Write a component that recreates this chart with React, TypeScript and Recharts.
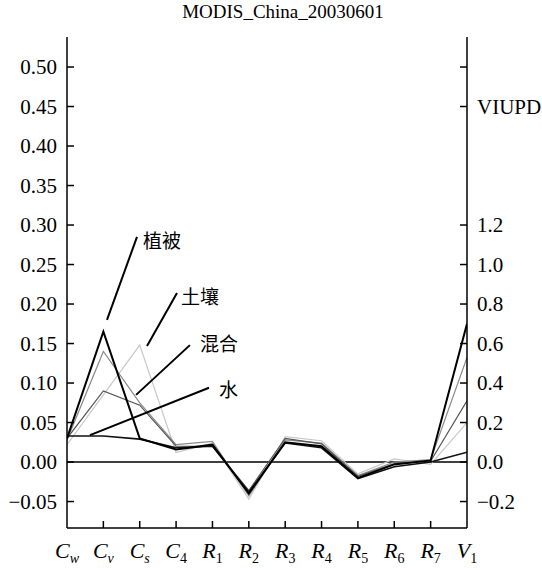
import React from "react";
import {LineChart, Line, XAxis, YAxis, ReferenceLine, ReferenceDot} from "recharts";

// band / feature names along the x axis (letter_subscript)
const categories = ["C_w", "C_v", "C_s", "C_4", "R_1", "R_2", "R_3", "R_4", "R_5", "R_6", "R_7", "V_1"];

// values for C_w .. R_7 (left axis)
const vegBlack = [0.030, 0.165, 0.030, 0.016, 0.022, -0.040, 0.025, 0.020, -0.020, -0.003, 0.002];
const vegGray = [0.028, 0.140, 0.075, 0.022, 0.026, -0.043, 0.028, 0.024, -0.017, 0.000, 0.003];
const soilLight = [0.022, 0.085, 0.148, 0.012, 0.024, -0.047, 0.032, 0.027, -0.015, 0.004, -0.003];
const mixed = [0.030, 0.090, 0.072, 0.020, 0.020, -0.036, 0.030, 0.023, -0.018, -0.002, 0.001];
const water = [0.033, 0.033, 0.029, 0.018, 0.020, -0.038, 0.024, 0.018, -0.021, -0.006, 0.000];

// V_1 values, read on the right axis (VIUPD)
const viupd = {vegBlack: 0.70, vegGray: 0.53, soilLight: 0.20, mixed: 0.31, water: 0.05};

const leftTicks = [-0.05, 0, 0.05, 0.1, 0.15, 0.2, 0.25, 0.3, 0.35, 0.4, 0.45, 0.5];
const rightTicks = [-0.2, 0, 0.2, 0.4, 0.6, 0.8, 1.0, 1.2, 1.8, 2.0];
const rightNames: Record<string, string> = {"1.8": "VIUPD", "2.0": ""};

const LEFT_DOMAIN: [number, number] = [-0.0835, 0.538];
const RATIO = 4; // right axis units per left axis unit
const RIGHT_DOMAIN: [number, number] = [LEFT_DOMAIN[0] * RATIO, LEFT_DOMAIN[1] * RATIO];

const series = {vegBlack, vegGray, soilLight, mixed, water};

const data = categories.map((name, i) => {
  const row: any = {i};
  (Object.keys(series) as (keyof typeof series)[]).forEach((k) => {
    row[k] = i < 11 ? series[k][i] : viupd[k] / RATIO;
  });
  return row;
});

const FONT = "Liberation Serif, Times New Roman, serif";
const CJK = "Noto Sans CJK SC, sans-serif";

const fmt = (v: number, d: number) => (v < 0 ? "\u2212" + Math.abs(v).toFixed(d) : v.toFixed(d));

const LeftTick = ({x, y, payload}: any) => (
  <g>
    <line x1={x} x2={x + 7} y1={y} y2={y} stroke="#000" strokeWidth={1.5} />
    <text x={x - 10} y={y} textAnchor="end" dominantBaseline="central" fontSize={21} fontFamily={FONT} fill="#000">
      {fmt(payload.value, 2)}
    </text>
  </g>
);

const RightTick = ({x, y, payload}: any) => {
  const key = payload.value.toFixed(1);
  const label = key in rightNames ? rightNames[key] : fmt(payload.value, 1);
  return (
    <g>
      <line x1={x - 7} x2={x} y1={y} y2={y} stroke="#000" strokeWidth={1.5} />
      <text x={x + 10} y={y} textAnchor="start" dominantBaseline="central" fontSize={21} fontFamily={FONT} fill="#000">
        {label}
      </text>
    </g>
  );
};

const BottomTick = ({x, y, payload}: any) => {
  const [main, sub] = categories[payload.value].split("_");
  const subItalic = !/[0-9]/.test(sub);
  return (
    <g>
      {payload.value > 0 && payload.value < 11 && (
        <line x1={x} x2={x} y1={y - 7} y2={y} stroke="#000" strokeWidth={1.5} />
      )}
      <text x={x} y={y + 30} textAnchor="middle" fontSize={22} fontFamily={FONT} fill="#000">
        <tspan fontStyle="italic">{main}</tspan>
        <tspan dy={5} fontSize={14} fontStyle={subItalic ? "italic" : "normal"}>{sub}</tspan>
      </text>
    </g>
  );
};

const notes = [
  {text: "植被", from: {x: 1.10, y: 0.180}, to: {x: 1.925, y: 0.285}, at: {x: 2.09, y: 0.279}},
  {text: "土壤", from: {x: 2.20, y: 0.147}, to: {x: 3.025, y: 0.214}, at: {x: 3.135, y: 0.209}},
  {text: "混合", from: {x: 1.90, y: 0.085}, to: {x: 3.38, y: 0.148}, at: {x: 3.66, y: 0.149}},
  {text: "水", from: {x: 0.633, y: 0.034}, to: {x: 3.905, y: 0.094}, at: {x: 4.18, y: 0.091}},
];

export default function App() {
  return (
    <div style={{position: "absolute", left: 0, top: 0, width: 542, height: 570, background: "#fff"}}>
      <div
        style={{
          position: "absolute",
          left: 0,
          width: 566,
          top: 1,
          textAlign: "center",
          fontFamily: FONT,
          fontSize: 19,
          lineHeight: "22px",
        }}
      >
        MODIS_China_20030601
      </div>
      <LineChart width={542} height={570} data={data} margin={{top: 37, right: 0, bottom: 0, left: 0}}>
        <XAxis
          dataKey="i"
          type="number"
          domain={[0, 11]}
          allowDataOverflow
          ticks={categories.map((_, i) => i)}
          tick={<BottomTick />}
          tickSize={0}
          tickMargin={0}
          height={42}
          stroke="#000"
          strokeWidth={1.5}
          interval={0}
        />
        <XAxis xAxisId="top" orientation="top" type="number" domain={[0, 11]} allowDataOverflow tick={false} tickLine={false} height={0} stroke="#000" strokeWidth={1.5} />
        <YAxis
          yAxisId="left"
          domain={LEFT_DOMAIN}
          allowDataOverflow
          ticks={leftTicks}
          tick={<LeftTick />}
          tickSize={0}
          tickMargin={0}
          width={67}
          stroke="#000"
          strokeWidth={1.5}
          interval={0}
        />
        <YAxis
          yAxisId="right"
          orientation="right"
          type="number"
          domain={RIGHT_DOMAIN}
          allowDataOverflow
          ticks={rightTicks}
          tick={<RightTick />}
          tickSize={0}
          tickMargin={0}
          width={75}
          stroke="#000"
          strokeWidth={1.5}
          interval={0}
        />
        <ReferenceLine yAxisId="left" y={0} stroke="#000" strokeWidth={1.5} />
        <Line yAxisId="left" dataKey="soilLight" stroke="#c8c8c8" strokeWidth={1.2} dot={false} isAnimationActive={false} />
        <Line yAxisId="left" dataKey="vegGray" stroke="#8a8a8a" strokeWidth={1.2} dot={false} isAnimationActive={false} />
        <Line yAxisId="left" dataKey="mixed" stroke="#555" strokeWidth={1.2} dot={false} isAnimationActive={false} />
        <Line yAxisId="left" dataKey="water" stroke="#111" strokeWidth={1.6} dot={false} isAnimationActive={false} />
        <Line yAxisId="left" dataKey="vegBlack" stroke="#000" strokeWidth={2} dot={false} isAnimationActive={false} />
        {notes.map((n) => (
          <ReferenceLine key={n.text} yAxisId="left" segment={[n.from, n.to]} stroke="#000" strokeWidth={2} />
        ))}
        {notes.map((n) => (
          <ReferenceDot
            key={"l" + n.text}
            yAxisId="left"
            x={n.at.x}
            y={n.at.y}
            r={0}
            stroke="none"
            fill="none"
            label={{value: n.text, position: "right", offset: 0, fontSize: 19, fontFamily: CJK, fill: "#000"}}
          />
        ))}
      </LineChart>
    </div>
  );
}
